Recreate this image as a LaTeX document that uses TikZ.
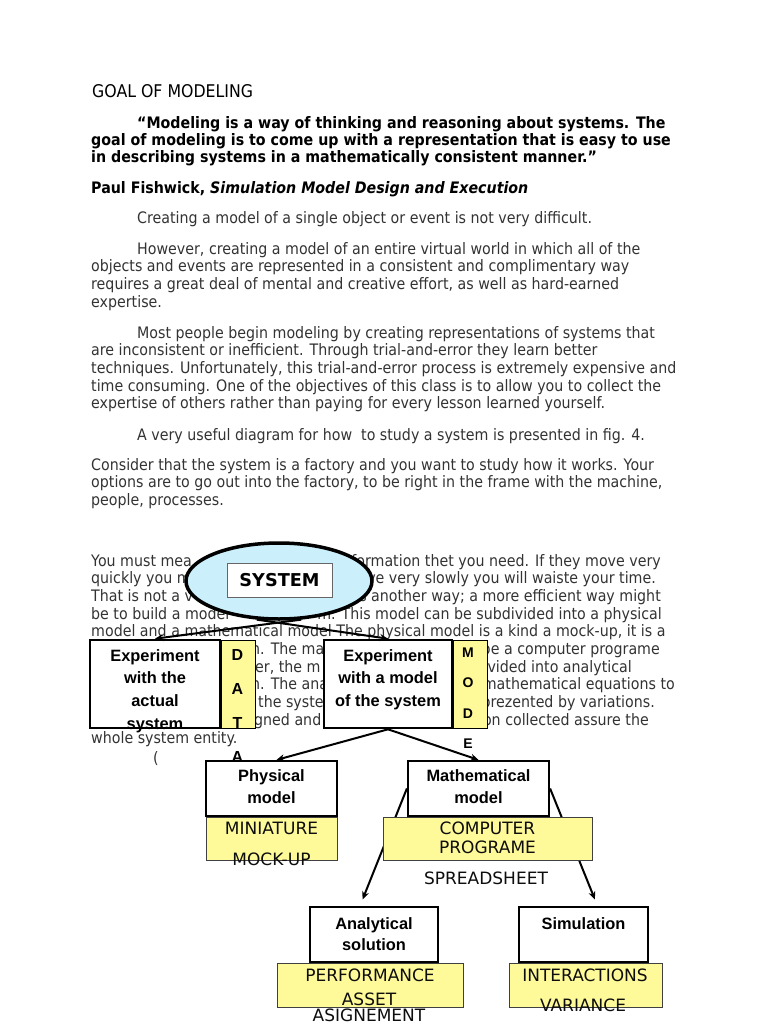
\documentclass[tikz,border=0pt]{standalone}
\usepackage{fontspec}
\usetikzlibrary{arrows.meta,positioning,shapes.geometric}
\newfontfamily\docfont[FakeStretch=0.9]{DejaVu Sans}
\newfontfamily\tagfont{DejaVu Sans}
\newfontfamily\boxfont{Liberation Sans}
\begin{document}
\begin{tikzpicture}[x=1pt,y=-1pt,
  txt/.style={anchor=base west,inner sep=0pt,text=black!80,font=\docfont\fontsize{15.8}{17.7}\selectfont},
  txtR/.style={txt,anchor=base east},
  qtxt/.style={txt,text=black,font=\docfont\bfseries\fontsize{15.8}{17.7}\selectfont},
  expbox/.style={draw,line width=2.6pt,fill=white,inner sep=0pt,minimum width=130pt,minimum height=88pt},
  strip/.style={draw,line width=0.8pt,fill=yellow!40,inner sep=0pt,minimum width=34pt,minimum height=88pt},
  modelbox/.style={draw,line width=2.2pt,fill=white,inner sep=0pt,minimum height=55pt},
  tagbox/.style={draw=black!75,line width=0.8pt,fill=yellow!40,inner sep=0pt,minimum height=43pt},
  btxt/.style={anchor=base,inner sep=0pt,font=\boxfont\bfseries\fontsize{16.4}{20}\selectfont},
  ytxt/.style={anchor=base,inner sep=0pt,text=black!95,font=\tagfont\fontsize{17}{20}\selectfont},
  vchar/.style={anchor=base,inner sep=0pt,font=\boxfont\bfseries\fontsize{#1}{#1}\selectfont},
  conn/.style={line width=2pt,-{Stealth[length=8pt,width=7pt]}}]
\clip (0,0) rectangle (768,1024);
\fill[white] (0,0) rectangle (768,1024);
\node[txt,text=black,font=\docfont\fontsize{17.5}{20}\selectfont] (goal) at (92,98) {GOAL OF MODELING};
\foreach \x/\t [count=\i from 0] in {137/{“Modeling is a way of thinking and reasoning about systems. The},91/{goal of modeling is to come up with a representation that is easy to use},91/{in describing systems in a mathematically consistent manner.”}}
  \node[qtxt] (quote\i) at (\x,129+17*\i) {\t};
\node[qtxt] (source) at (91,194) {Paul Fishwick, \textit{Simulation Model Design and Execution}};
\node[txt] (single) at (137,223) {Creating a model of a single object or event is not very difficult.};
\foreach \x/\t [count=\i from 0] in {137/{However, creating a model of an entire virtual world in which all of the},91/{objects and events are represented in a consistent and complimentary way},91/{requires a great deal of mental and creative effort, as well as hard-earned},91/{expertise.}}
  \node[txt] (world\i) at (\x,254+17.7*\i) {\t};
\foreach \x/\t [count=\i from 0] in {137/{Most people begin modeling by creating representations of systems that},91/{are inconsistent or inefficient. Through trial-and-error they learn better},91/{techniques. Unfortunately, this trial-and-error process is extremely expensive and},91/{time consuming. One of the objectives of this class is to allow you to collect the},91/{expertise of others rather than paying for every lesson learned yourself.}}
  \node[txt] (trial\i) at (\x,338+17.7*\i) {\t};
\node[txt] (useful) at (137,440) {A very useful diagram for how~ to study a system is presented in fig. 4.};
\foreach \x/\t [count=\i from 0] in {91/{Consider that the system is a factory and you want to study how it works. Your},91/{options are to go out into the factory, to be right in the frame with the machine,},91/{people, processes.}}
  \node[txt] (factory\i) at (\x,470+17.7*\i) {\t};
\foreach \x/\r/\t [count=\i] in {91/0/{You must mea},91/1/{quickly you m},91/2/{That is not a v},91/3/{be to build a model},91/4/{model and a mathematical model The physical model is a kind a mock-up, it is a},251/5/{n. The ma},255/6/{er, the m},251/7/{n. The ana},258/8/{the syste},254/9/{gned and},91/10/{whole system entity.}}
  \node[txt] (measL\i) at (\x,566+17.7*\r) {\t};
\foreach \x/\r/\t [count=\i] in {661/0/{formation thet you need. If they move very},656/1/{ve very slowly you will waiste your time.},661/2/{s another way; a more efficient way might},662/3/{m. This model can be subdivided into a physical},660/5/{be a computer programe},632/6/{vided into analytical},675/7/{mathematical equations to},655/8/{prezented by variations.},649/9/{on collected assure the}}
  \node[txtR] (measR\i) at (\x,566+17.7*\r) {\t};
\node[ellipse,draw,line width=3.5pt,fill=cyan!20,minimum width=186pt,minimum height=76pt,inner sep=0pt] (sys) at (279,581) {};
\node[draw=black!60,line width=1pt,fill=white,minimum width=105pt,minimum height=34pt,font=\tagfont\bfseries\fontsize{17.7}{20}\selectfont] (sysname) at (279.5,580) {SYSTEM};
\node[expbox] (expA) at (155,684) {};
\node[strip,right=0pt of expA] (data) {};
\node[expbox,minimum width=128pt] (expM) at (388,684) {};
\node[strip,right=0pt of expM] (mode) {};
\foreach \t [count=\i from 0] in {Experiment,with the,actual,system}
  \node[btxt] (expAtxt\i) at (155,661+22.7*\i) {\t};
\foreach \t [count=\i from 0] in {Experiment,with a model,of the system}
  \node[btxt] (expMtxt\i) at (388,661+22.7*\i) {\t};
\draw[conn] (sys.-60) -- (expA.north);
\draw[conn] (sys.-120) -- (expM.north);
\node[modelbox,minimum width=131pt] (phys) at (271.5,788.5) {};
\node[modelbox,minimum width=141pt] (math) at (478.5,788.5) {};
\node[modelbox,minimum width=128pt] (anal) at (374,934.5) {};
\node[modelbox,minimum width=129pt] (simu) at (583.5,934.5) {};
\foreach \x/\y/\t [count=\i] in {271.5/781/Physical,271.5/803/model,478.5/781/Mathematical,478.5/803/model,374/929/Analytical,374/950/solution,583.5/929/Simulation}
  \node[btxt] (mtxt\i) at (\x,\y) {\t};
\draw[conn] (expM.south) -- ([xshift=5pt]phys.north);
\draw[conn] (expM.south) -- (math.north);
\draw[conn,shorten >=7pt] (math.west) -- ([xshift=-14pt]anal.north);
\draw[conn,shorten >=7pt] (math.east) -- ([xshift=14pt]simu.north);
\node[tagbox,minimum width=131pt,below=0pt of phys] (mini) {};
\node[tagbox,minimum width=209pt,below=0pt of math,xshift=9pt] (comp) {};
\node[tagbox,minimum width=186pt,minimum height=44pt,below=0pt of anal,xshift=-4pt] (perf) {};
\node[tagbox,minimum width=153pt,minimum height=44pt,below=0pt of simu,xshift=2pt] (inter) {};
\foreach \x/\y/\t [count=\i] in {271.5/834/MINIATURE,271.5/865/MOCK-UP,487.5/834/COMPUTER,487.5/853/PROGRAME,486/884/SPREADSHEET,370/981/PERFORMANCE,369/1005/ASSET,369/1021/ASIGNEMENT,585/981/INTERACTIONS,583/1011/VARIANCE}
  \node[ytxt] (ytxt\i) at (\x,\y) {\t};
\foreach \c [count=\i from 0] in {D,A,T,A}
  \node[vchar=16] (dchar\i) at (237.5,660.7+34*\i) {\c};
\foreach \c [count=\i from 0] in {M,O,D,E}
  \node[vchar=14] (mchar\i) at (468,657+30.5*\i) {\c};
\node[txt] (paren) at (153,763) {(};
\end{tikzpicture}
\end{document}
